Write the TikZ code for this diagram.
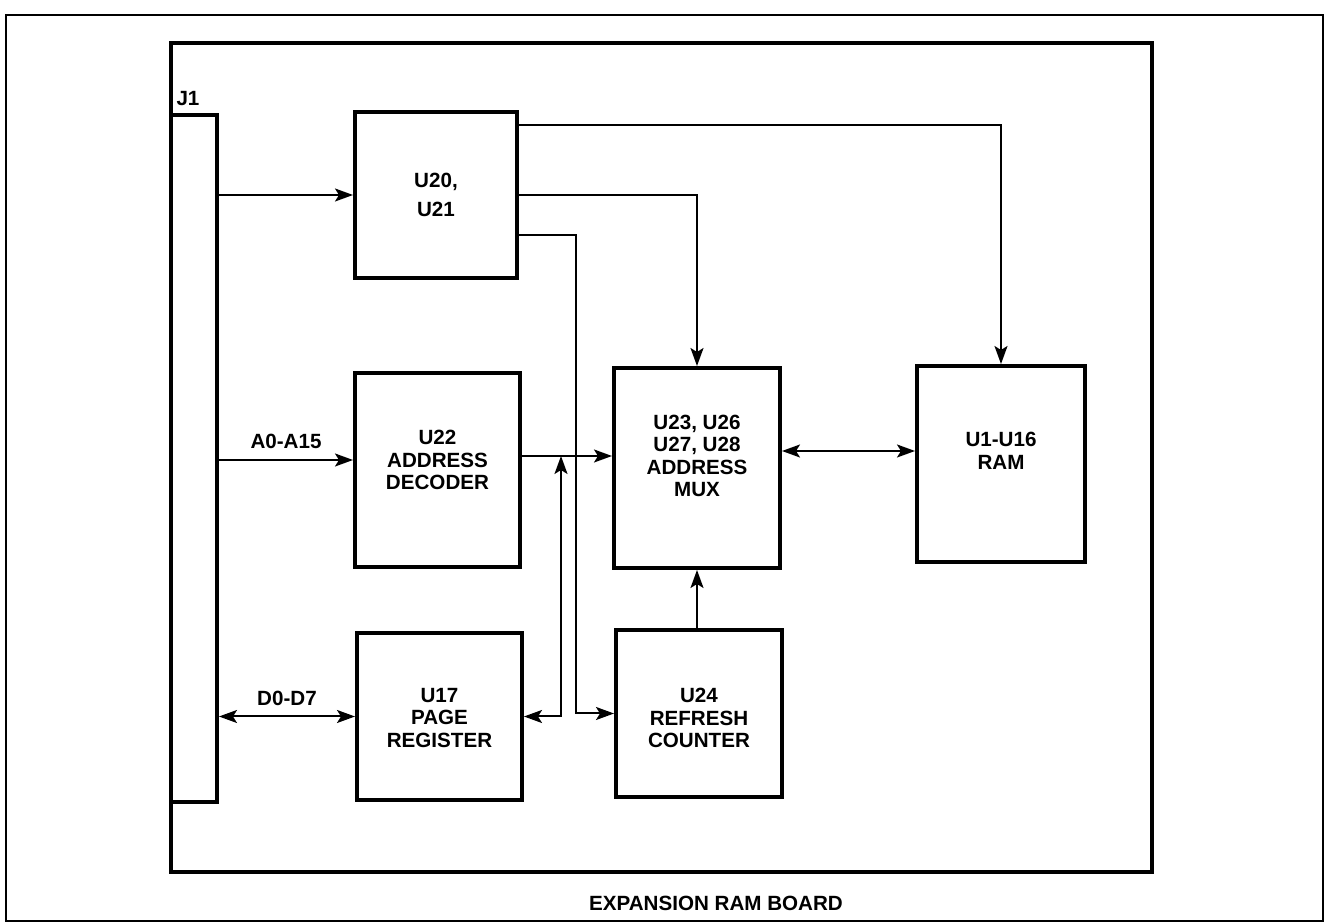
\documentclass[tikz,border=0pt]{standalone}
\usepackage{fontspec}
\setmainfont{Liberation Sans}
\usetikzlibrary{arrows.meta,positioning,calc}
\tikzset{
  flow/.style={-{Stealth[length=9pt,width=6.5pt,inset=2pt]},line width=1pt},
  flowboth/.style={{Stealth[length=9pt,width=6.5pt,inset=2pt]}-{Stealth[length=9pt,width=6.5pt,inset=2pt]},line width=1pt},
  block/.style={draw,line width=2pt,inner sep=0pt},
  blocktext/.style={font=\fontsize{10.3}{11.2}\selectfont\bfseries,align=center,inner sep=0pt},
  buslabel/.style={font=\fontsize{10.3}{12}\selectfont\bfseries,inner sep=0pt},
}
\begin{document}
\begin{tikzpicture}[x=0.5pt,y=-0.5pt]
  \useasboundingbox (0,0) rectangle (1329,924);
  % frames
  \node[draw,line width=1.1pt,minimum width=658.5pt,minimum height=453pt,inner sep=0pt] (sheet) at (664.5,468) {};
  \node[draw,line width=2pt,minimum width=490.5pt,minimum height=414.5pt,inner sep=0pt] (board) at (661.5,457.5) {};
  \node[buslabel] (title) at (716,903) {EXPANSION RAM BOARD};

  % connector
  \node[block,minimum width=23pt,minimum height=343.5pt] (j1) at (194,458.5) {};
  \node[buslabel] (j1txt) at (188,99) {J1};

  % blocks
  \node[block,minimum width=81pt,minimum height=83pt] (u20) at (436,195) {};
  \node[blocktext] (u20txt) at (436,195) {U20,\\[3.5pt]U21};
  \node[block,minimum width=82.5pt,minimum height=97pt] (u22) at (437.5,470) {};
  \node[blocktext] (u22txt) at (437.5,460) {U22\\ADDRESS\\DECODER};
  \node[block,minimum width=82.5pt,minimum height=83.5pt] (u17) at (439.5,716.5) {};
  \node[blocktext] (u17txt) at (439.5,718) {U17\\PAGE\\REGISTER};
  \node[block,minimum width=83pt,minimum height=100pt] (mux) at (697,468) {};
  \node[blocktext] (muxtxt) at (697,456) {U23, U26\\U27, U28\\ADDRESS\\MUX};
  \node[block,minimum width=83pt,minimum height=83.5pt] (u24) at (699,713.5) {};
  \node[blocktext] (u24txt) at (699,718) {U24\\REFRESH\\COUNTER};
  \node[block,minimum width=84pt,minimum height=98pt] (ram) at (1001,464) {};
  \node[blocktext] (ramtxt) at (1001,451) {U1-U16\\RAM};

  % bus
  \draw[flow] (j1.east |- u20) -- (u20.west);
  \draw[flow] (j1.east |- u22txt) -- node[buslabel,above=5pt] (addr) {A0-A15} (u22.west |- u22txt);
  \draw[flowboth] (j1.east |- u17) -- node[buslabel,above=5pt] (data) {D0-D7} (u17.west);

  % U20/U21 outputs
  \draw[flow] ([yshift=35pt]u20.east) -| (ram.north);
  \draw[flow] (u20.east) -| (mux.north);
  \draw[flow] ([yshift=-20pt]u20.east) -| ([xshift=-19pt]u24.west) -- (u24.west);

  % address path
  \draw[flow] (u22.east |- muxtxt) -- (mux.west |- muxtxt);
  \coordinate (tap) at (561,456);
  \draw[flowboth] (u17.east) -| (tap);
  \draw[flowboth] (mux.east |- ramtxt) -- (ram.west |- ramtxt);
  \draw[flow] (mux.south |- u24.north) -- (mux.south);
\end{tikzpicture}
\end{document}
